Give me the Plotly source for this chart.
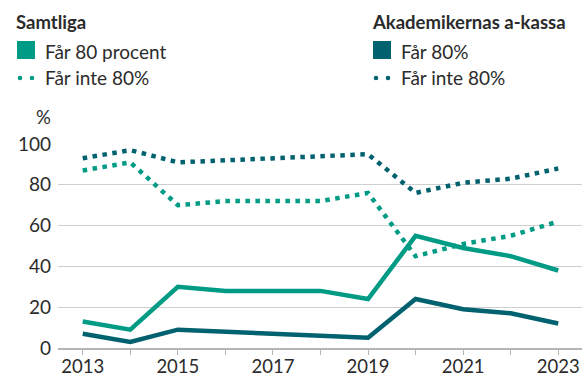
import plotly.graph_objects as go

years = list(range(2013, 2024))
tick_labels = [str(y) if y % 2 == 1 else "" for y in years]

# Samtliga
samtliga_far80 = [13, 9, 30, 28, 28, 28, 24, 55, 49, 45, 38]
samtliga_farinte80 = [87, 91, 70, 72, 72, 72, 76, 45, 51, 55, 62]

# Akademikernas a-kassa
akademikerna_far80 = [7, 3, 9, 8, 7, 6, 5, 24, 19, 17, 12]
akademikerna_farinte80 = [93, 97, 91, 92, 93, 94, 95, 76, 81, 83, 88]

TEAL = "#009b84"
DARK = "#00616f"
TEXT = "#2b2b2b"
FONT = "Lato"

W_PX, H_PX = 587, 379
L, R, T, B = 58, 5, 144, 31
PW, PH = W_PX - L - R, H_PX - T - B


def px(x):
    return (x - L) / PW


def py(y):
    return 1 - (y - T) / PH


fig = go.Figure()

dotted = dict(width=4.5, dash="4.5px,5.5px")
fig.add_trace(go.Scatter(x=years, y=akademikerna_farinte80, mode="lines",
                         line=dict(color=DARK, **dotted)))
fig.add_trace(go.Scatter(x=years, y=samtliga_farinte80, mode="lines",
                         line=dict(color=TEAL, **dotted)))
fig.add_trace(go.Scatter(x=years, y=akademikerna_far80, mode="lines",
                         line=dict(color=DARK, width=4.5)))
fig.add_trace(go.Scatter(x=years, y=samtliga_far80, mode="lines",
                         line=dict(color=TEAL, width=4.5)))

annotations = []
shapes = []
LEG_SIZE = 19


def legend_group(x0, title, label_solid, label_dot, color):
    annotations.append(dict(text=f"<b>{title}</b>", x=px(x0 - 3), y=py(22),
                            xref="paper", yref="paper", xanchor="left",
                            yanchor="middle", showarrow=False,
                            font=dict(family=FONT, size=18.5, color=TEXT)))
    shapes.append(dict(type="rect", xref="paper", yref="paper",
                       x0=px(x0), x1=px(x0 + 18), y0=py(41), y1=py(59),
                       fillcolor=color, line=dict(width=0)))
    annotations.append(dict(text=label_solid, x=px(x0 + 26), y=py(51),
                            xref="paper", yref="paper", xanchor="left",
                            yanchor="middle", showarrow=False,
                            font=dict(family=FONT, size=LEG_SIZE, color=TEXT)))
    for cx in (x0 + 3, x0 + 15):
        shapes.append(dict(type="circle", xref="paper", yref="paper",
                           x0=px(cx - 2.3), x1=px(cx + 2.3),
                           y0=py(78 - 2.3), y1=py(78 + 2.3),
                           fillcolor=color, line=dict(width=0)))
    annotations.append(dict(text=label_dot, x=px(x0 + 26), y=py(77),
                            xref="paper", yref="paper", xanchor="left",
                            yanchor="middle", showarrow=False,
                            font=dict(family=FONT, size=LEG_SIZE, color=TEXT)))


legend_group(17, "Samtliga", "Får 80 procent", "Får inte 80%", TEAL)
legend_group(373, "Akademikernas a-kassa", "Får 80%", "Får inte 80%", DARK)

annotations.append(dict(text="%", x=px(43.5), y=py(117), xref="paper",
                        yref="paper", xanchor="center", yanchor="middle",
                        showarrow=False,
                        font=dict(family=FONT, size=18.5, color=TEXT)))

fig.update_layout(
    width=W_PX, height=H_PX,
    margin=dict(l=L, r=R, t=T, b=B, pad=0, autoexpand=False),
    paper_bgcolor="white", plot_bgcolor="white",
    showlegend=False,
    font=dict(family=FONT, size=19, color=TEXT),
    annotations=annotations,
    shapes=shapes,
    xaxis=dict(range=[2012.48, 2023.5], tickvals=years, ticktext=tick_labels,
               showgrid=False, zeroline=False, showline=True,
               linecolor="#b5b5b5", linewidth=1.5, ticks="outside",
               ticklen=5, tickcolor="#b5b5b5", tickwidth=1,
               ticklabelstandoff=-4, automargin=False,
               tickfont=dict(family=FONT, size=18.5, color=TEXT)),
    yaxis=dict(range=[0, 100], dtick=20, showgrid=True,
               gridcolor="#cfcfcf", gridwidth=1, zeroline=False,
               showline=False, ticks="", ticklabelstandoff=6,
               automargin=False,
               tickfont=dict(family=FONT, size=19, color=TEXT)),
)

fig.write_html("out.html")
